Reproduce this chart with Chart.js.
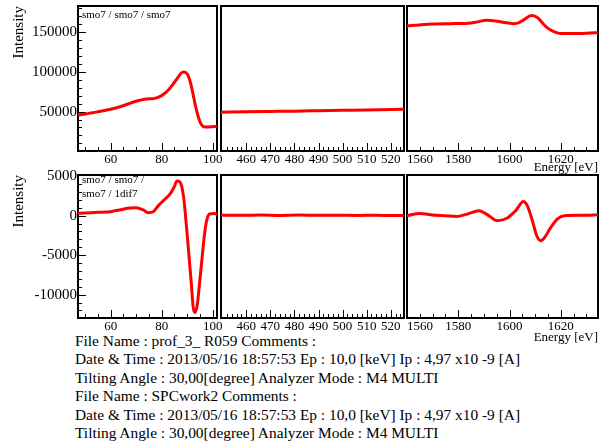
<!DOCTYPE html>
<html>
<head>
<meta charset="utf-8">
<script src="https://cdn.jsdelivr.net/npm/chart.js@4.4.0/dist/chart.umd.min.js"></script>
<style>
  body { margin: 0; background: #fff; }
  #wrap { position: relative; width: 608px; height: 448px; overflow: hidden; background: #fff; }
  #wrap canvas { position: absolute; left: 0; top: 0; }
  #info { position: absolute; left: 75px; top: 332px; font: 15.4px "Liberation Serif", "Times New Roman", serif;
          line-height: 18.4px; color: #000; white-space: pre; }
</style>
</head>
<body>
<div id="wrap">
  <div id="info"></div>
</div>
<script>
// upper row: smo7 spectra, three energy windows
const lowE    = [47, 50, 53, 56, 60, 64, 68, 71, 74, 77, 79, 81, 83, 85, 86.5, 87.5, 88.5, 89.5, 90.5, 91.5, 92.5, 93.5, 94.5, 95.5, 96.5, 98, 100, 102];
const lowSmo  = [45500, 47000, 48500, 50500, 53000, 56500, 61000, 64000, 66000, 66500, 68500, 72500, 78500, 87000, 93500, 98000, 100000, 99000, 94500, 84000, 69000, 54000, 42000, 34000, 31000, 30500, 31000, 31500];
const midE    = [449.5, 460, 470, 480, 490, 500, 510, 520, 525.5];
const midSmo  = [49300, 49800, 50200, 50600, 51100, 51600, 52100, 52700, 53000];
const highE   = [1560, 1565, 1570, 1577, 1584, 1587.5, 1591, 1594.5, 1598, 1601.5, 1603.5, 1605.5, 1608.5, 1610.7, 1612.7, 1614.6, 1617.3, 1620, 1625, 1630, 1635];
const highSmo = [157900, 159200, 160400, 160800, 161300, 163000, 165100, 164200, 162100, 160800, 161700, 165500, 170900, 168900, 162100, 155800, 150800, 148300, 148300, 148700, 149500];

// lower row: 1dif7 (derivative) spectra
const difLowE  = [47, 50, 55, 60, 64, 67.5, 70, 72.8, 74.7, 76.7, 78.7, 80.7, 83.3, 85, 86, 87, 87.8, 88.7, 89.7, 90.6, 91.7, 92.3, 93, 93.9, 94.9, 95.8, 96.9, 97.8, 98.8, 100.8, 102];
const difLow   = [300, 350, 420, 510, 750, 980, 1000, 720, 380, 500, 1270, 1900, 2750, 3700, 4400, 4300, 3800, 2120, -1270, -4660, -8880, -11420, -12270, -11420, -8460, -5500, -2120, -420, 215, 290, 130];
const difMidE  = [449.5, 458, 466, 474, 482, 490, 498, 506, 514, 522, 525.5];
const difMid   = [60, 40, 90, 30, 70, 40, 60, 30, 50, 20, 30];
const difHighE = [1560, 1565, 1570, 1575, 1579.5, 1584, 1588, 1591.9, 1595.2, 1599.1, 1602.4, 1605.4, 1606.9, 1608.9, 1610.6, 1612.2, 1613.7, 1616.1, 1618.7, 1621.3, 1628, 1635];
const difHigh  = [0, 290, 90, 0, -90, 250, 635, 0, -635, -290, 635, 1780, 1270, -635, -2540, -3170, -2750, -1480, -420, 0, 50, 130];

// tick labels
const lowTicks  = [60, 80, 100];
const midTicks  = [460, 470, 480, 490, 500, 510, 520];
const highTicks = [1560, 1580, 1600, 1620];
const smoTicks  = [50000, 100000, 150000];
const difTicks  = [5000, 0, -5000, -10000];

const infoLines = [
  'File Name : prof_3_ R059 Comments :',
  'Date & Time : 2013/05/16 18:57:53 Ep : 10,0 [keV] Ip : 4,97 x10 -9 [A]',
  'Tilting Angle : 30,00[degree] Analyzer Mode : M4 MULTI',
  'File Name : SPCwork2 Comments :',
  'Date & Time : 2013/05/16 18:57:53 Ep : 10,0 [keV] Ip : 4,97 x10 -9 [A]',
  'Tilting Angle : 30,00[degree] Analyzer Mode : M4 MULTI'
];

const family = '"Liberation Serif", "Times New Roman", serif';
Chart.defaults.font.family = family;
Chart.defaults.color = '#000';

const W = 608, H = 448, Y_AXIS_W = 78;

const rows = [
  { top: 6, bottom: 151, axisH: 24, yMin: 400, yMax: 183000, yStep: 10000, yTicks: smoTicks,
    note: ['smo7 / smo7 / smo7'], noteY: 15,
    series: [[lowE, lowSmo], [midE, midSmo], [highE, highSmo]] },
  { top: 175, bottom: 318, axisH: 27, yMin: -12960, yMax: 5150, yStep: 1000, yTicks: difTicks,
    note: ['smo7 / smo7 /', 'smo7 / 1dif7'], noteY: 180.5,
    series: [[difLowE, difLow], [difMidE, difMid], [difHighE, difHigh]] }
];
const cols = [
  { left: 78, right: 217, min: 47.2, max: 101.7, step: 5, ticks: lowTicks },
  { left: 221, right: 404, min: 449.5, max: 525.5, step: 2, ticks: midTicks },
  { left: 407, right: 598, min: 1560, max: 1634.5, step: 5, ticks: highTicks }
];

// every minor step between min and max, majors are the labelled ones
function stepsBetween(min, max, step) {
  const out = [];
  for (let v = Math.ceil(min / step) * step; v <= max; v += step) out.push({ value: v });
  return out;
}

// frame, inward ticks, edge label and panel note
const panelFrame = {
  id: 'panelFrame',
  beforeDatasetsDraw(chart, args, opts) {
    const ctx = chart.ctx;
    const a = chart.chartArea;
    const xs = chart.scales.x, ys = chart.scales.y;
    ctx.save();
    ctx.strokeStyle = '#000';
    ctx.lineWidth = 1;
    ctx.beginPath();
    xs.ticks.forEach(t => {
      const p = Math.round(xs.getPixelForValue(t.value)) + 0.5;
      if (p < a.left + 2 || p > a.right - 2) return;
      const len = opts.xMajor.includes(t.value) ? 8 : 4;
      ctx.moveTo(p, a.bottom);
      ctx.lineTo(p, a.bottom - len);
    });
    if (opts.showY) {
      ys.ticks.forEach(t => {
        const p = Math.round(ys.getPixelForValue(t.value)) + 0.5;
        if (p < a.top + 2 || p > a.bottom - 2) return;
        const len = opts.yMajor.includes(t.value) ? 8 : 4;
        ctx.moveTo(a.left, p);
        ctx.lineTo(a.left + len, p);
      });
    }
    ctx.stroke();
    ctx.lineWidth = 2;
    ctx.strokeRect(a.left, a.top, a.right - a.left, a.bottom - a.top);

    ctx.fillStyle = '#000';
    ctx.textBaseline = 'middle';
    if (opts.edgeLabel !== null) {
      ctx.font = '13px ' + family;
      ctx.textAlign = 'left';
      ctx.fillText(String(opts.edgeLabel), a.left, a.bottom + 1 + 7.8);
    }
    if (opts.note) {
      ctx.font = '11px ' + family;
      ctx.textAlign = 'left';
      opts.note.forEach((s, i) => ctx.fillText(s, a.left + 4, opts.noteY + i * 13.5));
    }
    ctx.restore();
  }
};

const wrap = document.getElementById('wrap');

rows.forEach((row, r) => {
  cols.forEach((col, c) => {
    const canvas = document.createElement('canvas');
    canvas.width = W;
    canvas.height = H;
    wrap.appendChild(canvas);

    const [xs, ys] = row.series[c];
    const showY = c === 0;
    const last = c === cols.length - 1;
    const edge = col.ticks.includes(col.min) ? col.min : null;

    new Chart(canvas, {
      type: 'line',
      data: {
        datasets: [{
          data: xs.map((x, i) => ({ x: x, y: ys[i] })),
          borderColor: '#ff0000',
          borderWidth: 3,
          pointRadius: 0,
          cubicInterpolationMode: 'monotone',
          fill: false
        }]
      },
      options: {
        responsive: false,
        animation: false,
        devicePixelRatio: 1,
        layout: {
          padding: {
            left: col.left - (showY ? Y_AXIS_W : 0),
            top: row.top,
            right: W - col.right,
            bottom: H - row.bottom - row.axisH
          }
        },
        plugins: {
          legend: { display: false },
          tooltip: { enabled: false },
          panelFrame: {
            showY: showY,
            xMajor: col.ticks,
            yMajor: row.yTicks,
            edgeLabel: edge,
            note: showY ? row.note : null,
            noteY: row.noteY
          }
        },
        scales: {
          x: {
            type: 'linear',
            min: col.min,
            max: col.max,
            grid: { display: false, drawTicks: false },
            border: { display: false },
            ticks: {
              autoSkip: false,
              maxRotation: 0,
              padding: 1,
              font: { size: 13 },
              callback: v => (col.ticks.includes(v) && v !== edge) ? String(v) : ''
            },
            afterBuildTicks: s => { s.ticks = stepsBetween(col.min, col.max, col.step); },
            title: {
              display: last,
              text: 'Energy [eV]',
              align: 'end',
              padding: 0,
              font: { size: 13 }
            },
            afterFit: s => { s.height = row.axisH; s.paddingLeft = 0; s.paddingRight = 0; }
          },
          y: {
            type: 'linear',
            display: showY,
            min: row.yMin,
            max: row.yMax,
            grid: { display: false, drawTicks: false },
            border: { display: false },
            ticks: {
              autoSkip: false,
              padding: 1,
              font: { size: 15 },
              callback: v => row.yTicks.includes(v) ? String(v) : ''
            },
            afterBuildTicks: s => { s.ticks = stepsBetween(row.yMin, row.yMax, row.yStep); },
            title: {
              display: true,
              text: 'Intensity',
              align: 'end',
              padding: { top: 10, bottom: 0 },
              font: { size: 15 }
            },
            afterFit: s => { s.width = showY ? Y_AXIS_W : 0; s.paddingTop = 0; s.paddingBottom = 0; }
          }
        }
      },
      plugins: [panelFrame]
    });
  });
});

document.getElementById('info').textContent = infoLines.join('\n');
</script>
</body>
</html>
